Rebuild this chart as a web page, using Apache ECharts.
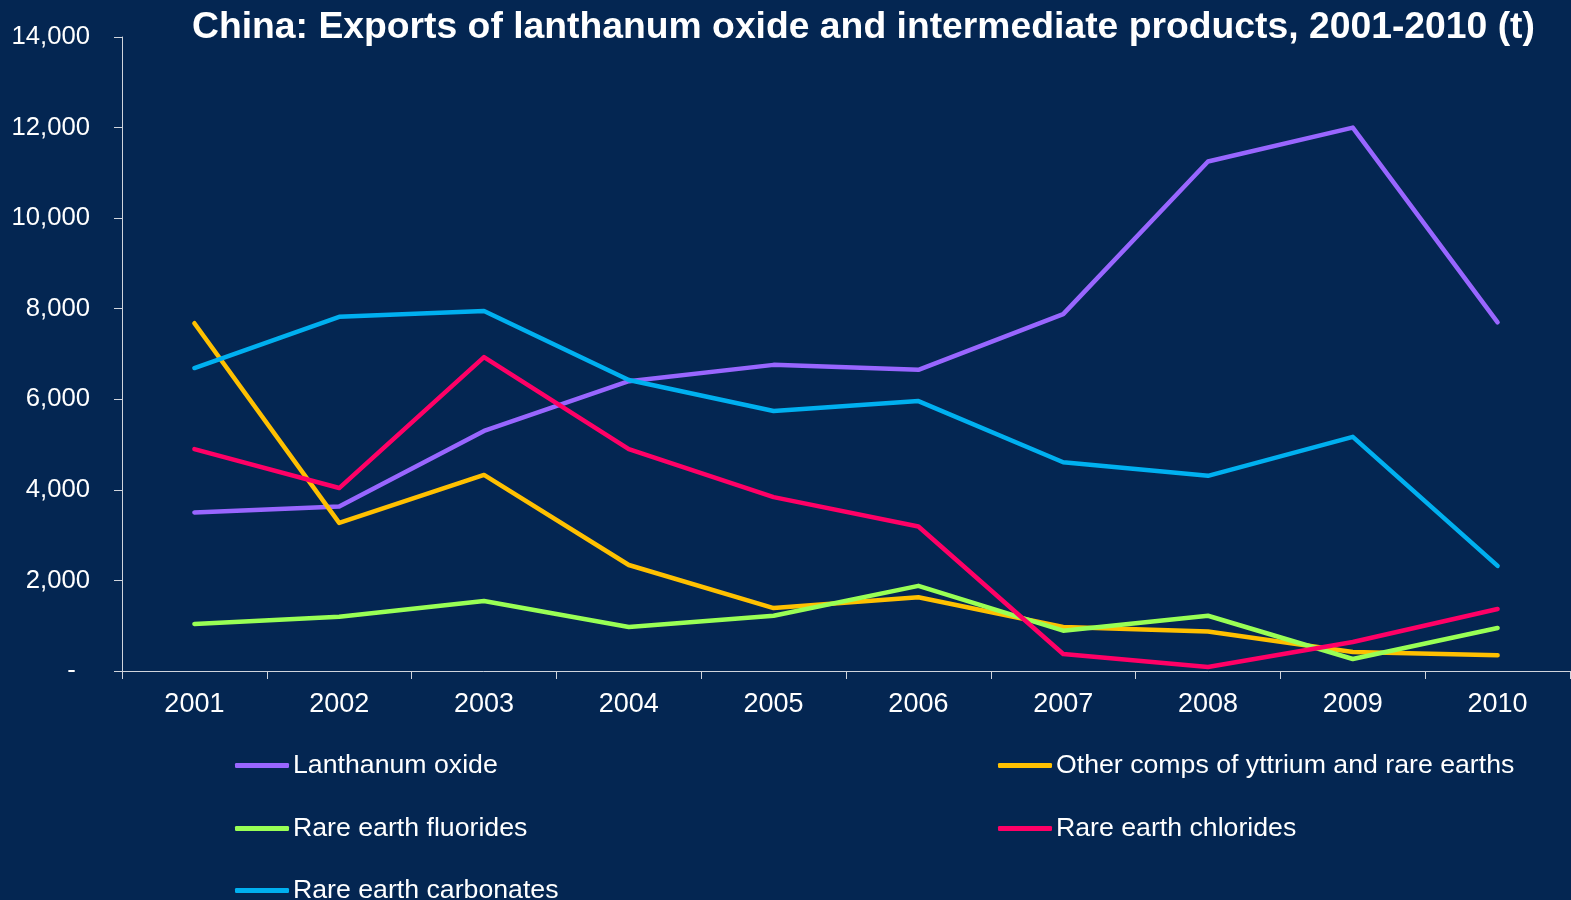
<!DOCTYPE html>
<html><head><meta charset="utf-8">
<script src="https://cdn.jsdelivr.net/npm/echarts@6/dist/echarts.min.js"></script>
<style>html,body{margin:0;padding:0;background:#042652;}#c{width:1571px;height:900px;}</style>
</head><body><div id="c"></div>
<script>
var years = ['2001','2002','2003','2004','2005','2006','2007','2008','2009','2010'];
var lanthanumOxide = [3500, 3630, 5300, 6400, 6760, 6650, 7880, 11250, 12000, 7700];
var otherComps = [7680, 3270, 4330, 2340, 1390, 1630, 970, 870, 420, 350];
var fluorides = [1040, 1200, 1545, 970, 1220, 1880, 890, 1220, 265, 950];
var chlorides = [4900, 4040, 6930, 4900, 3840, 3190, 375, 90, 640, 1370];
var carbonates = [6690, 7820, 7950, 6425, 5740, 5960, 4610, 4310, 5170, 2320];
var seriesNames = ['Lanthanum oxide','Other comps of yttrium and rare earths','Rare earth fluorides','Rare earth chlorides','Rare earth carbonates'];
var colors = ['#9966FF','#FFC000','#99FF55','#FF0066','#00B0F0'];
var yTicks = [0, 2000, 4000, 6000, 8000, 10000, 12000, 14000];

var font = 'Liberation Sans, Arial, sans-serif';
var chart = echarts.init(document.getElementById('c'));
var dataSets = [lanthanumOxide, otherComps, fluorides, chlorides, carbonates];
var legendPos = [[230,747],[993,747],[230,810],[993,810],[230,872]];
var legends = seriesNames.map(function(n,i){
  return {data:[n], left:legendPos[i][0], top:legendPos[i][1], icon:'roundRect', itemWidth:54, itemHeight:5,
    itemGap:0, textStyle:{color:'#FFFFFF', fontSize:26.7, fontFamily:font, padding:[0,0,0,-1]}, selectedMode:false};
});
chart.setOption({
  backgroundColor:'#042652',
  animation:false,
  title:{text:'China: Exports of lanthanum oxide and intermediate products, 2001-2010 (t)', left:187, top:4,
    textStyle:{color:'#FFFFFF', fontSize:37.3, fontWeight:'bold', fontFamily:font}},
  legend: legends,
  grid:{left:122, right:1, top:37, bottom:229, containLabel:false},
  xAxis:{type:'category', data:years, boundaryGap:true,
    axisLine:{lineStyle:{color:'#D0D4DC', width:1}},
    axisTick:{show:true, length:8, alignWithLabel:false, lineStyle:{color:'#D0D4DC'}},
    axisLabel:{color:'#FFFFFF', fontSize:27, fontFamily:font, margin:20}},
  yAxis:{type:'value', min:0, max:14000, interval:2000,
    axisLine:{show:true, lineStyle:{color:'#D0D4DC', width:1}},
    axisTick:{show:true, length:8, lineStyle:{color:'#D0D4DC'}},
    splitLine:{show:false},
    axisLabel:{color:'#FFFFFF', fontSize:25.7, fontFamily:font, margin:32,
      formatter:function(v){ return v===0 ? '-  ' : v.toLocaleString('en-US'); }}},
  series: dataSets.map(function(d,i){
    return {name:seriesNames[i], type:'line', data:d, showSymbol:false, symbol:'none',
      lineStyle:{color:colors[i], width:4.5, cap:'round', join:'round'}, itemStyle:{color:colors[i]}};
  })
});
</script></body></html>
